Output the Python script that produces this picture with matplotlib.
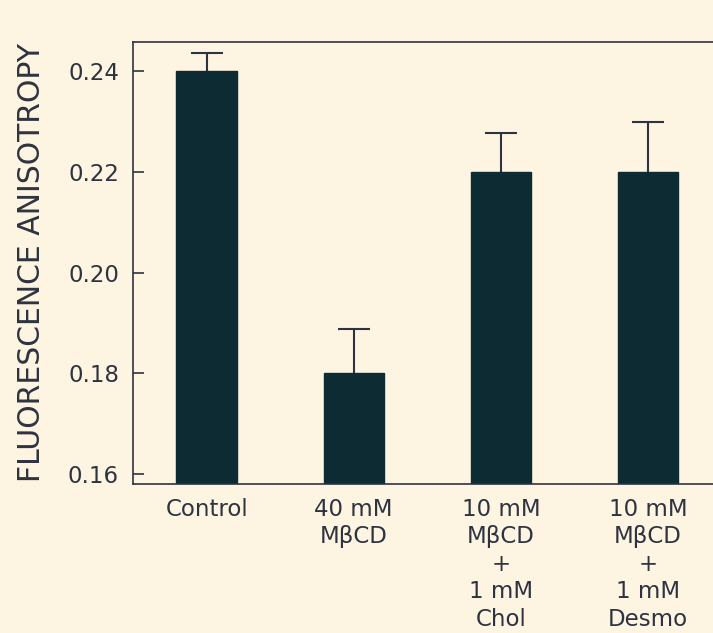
import matplotlib
matplotlib.use("Agg")
import matplotlib.pyplot as plt

# Anisotropy of membranes after cholesterol depletion / repletion
conditions = ["Control", "40 mM\nMβCD", "10 mM\nMβCD\n+\n1 mM\nChol", "10 mM\nMβCD\n+\n1 mM\nDesmo"]
anisotropy = [0.240, 0.180, 0.220, 0.220]
sem = [0.0036, 0.0087, 0.0077, 0.0099]
yticks = [0.16, 0.18, 0.20, 0.22, 0.24]

_BG = "#fdf4e2"
_BAR = "#0c2b33"
_INK = "#2e3340"

fig = plt.figure(figsize=(7.13, 6.33), dpi=100)
fig.patch.set_facecolor(_BG)
ax = fig.add_axes([133 / 713, 149 / 633, 580 / 713, 442 / 633])
ax.set_facecolor(_BG)

x = list(range(len(conditions)))
ax.bar(x, anisotropy, width=0.41, color=_BAR, edgecolor=_BAR, zorder=2)
_, caps, _ = ax.errorbar(x, anisotropy, yerr=[[0] * len(sem), sem], fmt="none",
                         ecolor=_INK, elinewidth=1.5, capsize=11.5, capthick=1.5, zorder=1)
# only the upper half of each error bar is shown
for cap in caps:
    if list(cap.get_ydata()) == anisotropy:
        cap.set_visible(False)

ax.set_xlim(-0.5, 3.442)
ax.set_ylim(0.158, 0.2458)
ax.set_yticks(yticks)
ax.set_yticklabels([f"{v:.2f}" for v in yticks])
ax.set_xticks(x)
ax.set_xticklabels(conditions, linespacing=1.25)

ax.tick_params(axis="y", direction="in", length=8, width=1.2, colors=_INK,
               labelsize=16.5, pad=10)
ax.tick_params(axis="x", length=0, colors=_INK, labelsize=16.5, pad=10)
ax.spines["right"].set_visible(False)
for side in ("left", "top", "bottom"):
    ax.spines[side].set_color(_INK)
    ax.spines[side].set_linewidth(1.2)

ax.set_ylabel("FLUORESCENCE ANISOTROPY", fontsize=21.5, color=_INK, labelpad=16)

fig.savefig("out.png", dpi=100, facecolor=_BG)
